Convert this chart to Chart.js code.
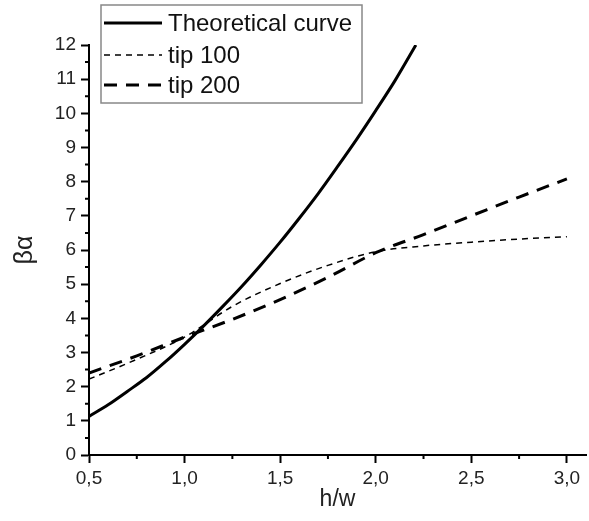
<!DOCTYPE html>
<html>
<head>
<meta charset="utf-8">
<script src="https://cdn.jsdelivr.net/npm/chart.js@4/dist/chart.umd.min.js"></script>
<style>
  body { margin: 0; background: #fff; }
  #wrap { width: 589px; height: 521px; }
</style>
</head>
<body>
<div id="wrap"><canvas id="chart" width="589" height="521"></canvas></div>
<script>
// values
const theoryX = [0.5, 0.6, 0.7, 0.8, 0.9, 1.0, 1.1, 1.2, 1.3, 1.4, 1.5, 1.6, 1.7, 1.8, 1.9, 2.0, 2.1, 2.21];
const theoryY = [1.13, 1.47, 1.86, 2.26, 2.73, 3.24, 3.78, 4.35, 4.94, 5.57, 6.23, 6.93, 7.66, 8.44, 9.24, 10.08, 10.95, 12.0];

const tipX = [0.5, 0.75, 1.0, 1.25, 1.5, 1.75, 2.0, 2.25, 2.5, 2.75, 3.0];
const tip100 = [2.22, 2.8, 3.45, 4.35, 5.02, 5.55, 5.95, 6.12, 6.23, 6.32, 6.39];
const tip200 = [2.4, 2.9, 3.45, 3.97, 4.55, 5.2, 5.92, 6.45, 7.0, 7.55, 8.08];

const xTicks = [0.5, 1.0, 1.5, 2.0, 2.5, 3.0];
const xMinor = [0.75, 1.25, 1.75, 2.25, 2.75];
const yTicks = [0, 1, 2, 3, 4, 5, 6, 7, 8, 9, 10, 11, 12];
const yMinor = [0.5, 1.5, 2.5, 3.5, 4.5, 5.5, 6.5, 7.5, 8.5, 9.5, 10.5, 11.5];

const FONT = "'Liberation Sans', Arial, sans-serif";
Chart.defaults.font.family = FONT;
Chart.defaults.color = '#222';

const pts = (xs, ys) => xs.map((x, i) => ({ x: x, y: ys[i] }));

// minor ticks (Chart.js has none for linear scales)
const minorTicks = {
  id: 'minorTicks',
  afterDraw(chart) {
    const { ctx, chartArea, scales } = chart;
    ctx.save();
    ctx.strokeStyle = '#000';
    ctx.lineWidth = 2;
    ctx.beginPath();
    xMinor.forEach(v => {
      const px = scales.x.getPixelForValue(v);
      ctx.moveTo(px, chartArea.bottom);
      ctx.lineTo(px, chartArea.bottom + 4);
    });
    yMinor.forEach(v => {
      const py = scales.y.getPixelForValue(v);
      ctx.moveTo(chartArea.left, py);
      ctx.lineTo(chartArea.left - 4, py);
    });
    ctx.stroke();
    ctx.restore();
  }
};

// legend box sitting on top of the plot, top-left
const boxLegend = {
  id: 'boxLegend',
  afterDraw(chart) {
    const ctx = chart.ctx;
    const rows = [23, 55, 85];
    ctx.save();
    ctx.fillStyle = '#fff';
    ctx.fillRect(101, 5, 261, 98);
    ctx.strokeStyle = '#888';
    ctx.lineWidth = 1.5;
    ctx.strokeRect(101, 5, 261, 98);
    chart.data.datasets.forEach((ds, i) => {
      const y = rows[i];
      ctx.strokeStyle = ds.borderColor;
      ctx.lineWidth = ds.borderWidth;
      ctx.setLineDash(ds.borderDash || []);
      ctx.beginPath();
      ctx.moveTo(104, y);
      ctx.lineTo(162, y);
      ctx.stroke();
      ctx.setLineDash([]);
      ctx.fillStyle = '#111';
      ctx.font = '24px ' + FONT;
      ctx.textBaseline = 'middle';
      ctx.fillText(ds.label, 168, y + 1);
    });
    ctx.restore();
  }
};

new Chart(document.getElementById('chart'), {
  type: 'line',
  data: {
    datasets: [
      {
        label: 'Theoretical curve',
        data: pts(theoryX, theoryY),
        borderColor: '#000',
        borderWidth: 3,
        pointRadius: 0,
        tension: 0.3
      },
      {
        label: 'tip 100',
        data: pts(tipX, tip100),
        borderColor: '#000',
        borderWidth: 1.5,
        borderDash: [6, 5],
        pointRadius: 0,
        cubicInterpolationMode: 'monotone'
      },
      {
        label: 'tip 200',
        data: pts(tipX, tip200),
        borderColor: '#000',
        borderWidth: 3,
        borderDash: [13, 9],
        pointRadius: 0,
        cubicInterpolationMode: 'monotone'
      }
    ]
  },
  options: {
    responsive: false,
    animation: false,
    layout: { padding: { top: 45, right: 3, left: 0, bottom: 0 } },
    plugins: {
      legend: { display: false },
      tooltip: { enabled: false }
    },
    scales: {
      x: {
        type: 'linear',
        min: 0.5,
        max: 3.1,
        afterBuildTicks: (scale) => { scale.ticks = xTicks.map(v => ({ value: v })); },
        afterFit: (scale) => { scale.height = 66; },
        ticks: {
          padding: 4,
          font: { size: 19 },
          callback: (v) => Number(v).toFixed(1).replace('.', ',')
        },
        grid: { drawOnChartArea: false, tickLength: 8, tickWidth: 2, tickColor: '#000' },
        border: { color: '#000', width: 2 },
        title: { display: true, text: 'h/w', font: { size: 23 }, padding: { top: 0, bottom: 8 } }
      },
      y: {
        min: 0,
        max: 12,
        afterBuildTicks: (scale) => { scale.ticks = yTicks.map(v => ({ value: v })); },
        afterFit: (scale) => { scale.width = 89; },
        ticks: { padding: 5, font: { size: 19 } },
        grid: { drawOnChartArea: false, tickLength: 8, tickWidth: 2, tickColor: '#000' },
        border: { color: '#000', width: 2 },
        title: { display: true, text: 'βα', font: { size: 25 }, padding: { top: 10, bottom: 0 } }
      }
    }
  },
  plugins: [minorTicks, boxLegend]
});
</script>
</body>
</html>
